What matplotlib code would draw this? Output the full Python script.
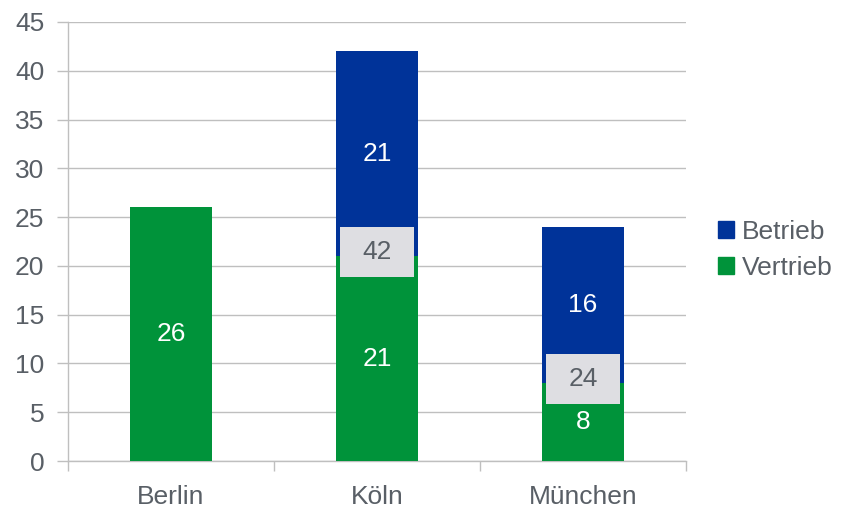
import matplotlib.pyplot as plt
import matplotlib.patches as mpatches
import numpy as np

plt.rcParams['font.family'] = ['Liberation Sans', 'DejaVu Sans']

# Data
cities = ['Berlin', 'Köln', 'München']
vertrieb = [26, 21, 8]
betrieb = [0, 21, 16]
totals = [26, 42, 24]

green = '#00933A'
blue = '#003399'
text_grey = '#595F66'
grid_grey = '#BFBFBF'
fs = 19

fig = plt.figure(figsize=(8.41, 5.08), dpi=100)
ax = fig.add_axes([0.0809, 0.0925, 0.7348, 0.8642])

x = np.arange(len(cities))
ax.bar(x, vertrieb, width=0.4, color=green, zorder=3)
ax.bar(x, betrieb, width=0.4, bottom=vertrieb, color=blue, zorder=3)

# Segment labels
for i in range(len(cities)):
    ax.text(x[i], vertrieb[i] / 2, str(vertrieb[i]), color='white',
            ha='center', va='center', fontsize=fs, zorder=4)
    if betrieb[i] > 0:
        ax.text(x[i], vertrieb[i] + betrieb[i] / 2, str(betrieb[i]),
                color='white', ha='center', va='center', fontsize=fs, zorder=4)
        # Total in grey box at the stack boundary
        yc = vertrieb[i] + 0.4
        ax.add_patch(mpatches.Rectangle((x[i] - 0.18, yc - 2.55), 0.36, 5.1,
                                        facecolor='#DEDEE2', edgecolor='none',
                                        zorder=4))
        ax.text(x[i], yc, str(totals[i]), color=text_grey,
                ha='center', va='center', fontsize=fs, zorder=5)

ax.set_xlim(-0.5, 2.5)
ax.set_ylim(0, 45)
ax.set_yticks(np.arange(0, 46, 5))
ax.set_xticks(x)
ax.set_xticklabels(cities)
ax.set_xticks([-0.5, 0.5, 1.5, 2.5], minor=True)
ax.tick_params(axis='x', which='major', length=0, pad=17,
               labelsize=fs, labelcolor=text_grey)
ax.tick_params(axis='x', which='minor', length=7, color=grid_grey, width=1)
ax.tick_params(axis='y', length=8, color=grid_grey, width=1, pad=9,
               labelsize=fs, labelcolor=text_grey)

ax.yaxis.grid(True, color=grid_grey, linewidth=1, zorder=0)
for s in ['top', 'right']:
    ax.spines[s].set_visible(False)
for s in ['left', 'bottom']:
    ax.spines[s].set_color(grid_grey)
    ax.spines[s].set_linewidth(1)

handles = [mpatches.Patch(color=blue, label='Betrieb'),
           mpatches.Patch(color=green, label='Vertrieb')]
leg = fig.legend(handles=handles, loc='center left',
                 bbox_to_anchor=(0.838, 0.508), frameon=False,
                 fontsize=fs, handlelength=0.6, handleheight=0.6,
                 handletextpad=0.3, labelspacing=0.45, borderpad=0)
for t in leg.get_texts():
    t.set_color(text_grey)

fig.savefig('out.png', dpi=100)
